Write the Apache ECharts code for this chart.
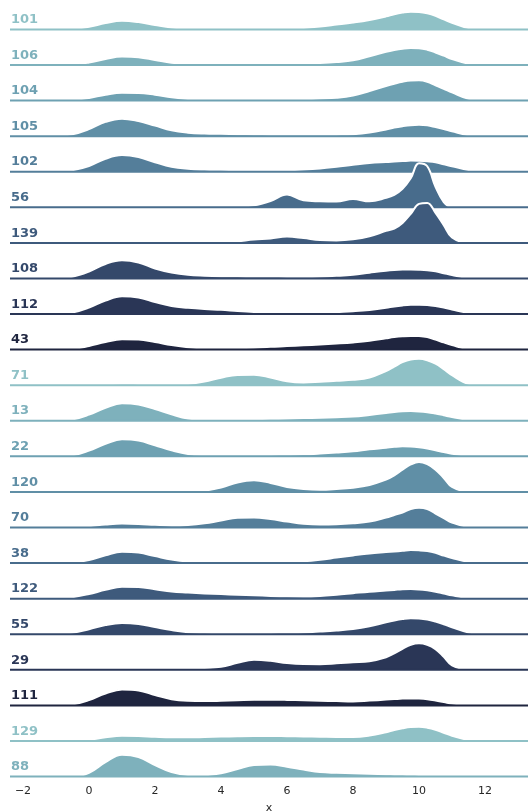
<!DOCTYPE html>
<html>
<head>
<meta charset="utf-8">
<script src="https://cdn.jsdelivr.net/npm/echarts@6/dist/echarts.min.js"></script>
<style>
  html, body { margin: 0; padding: 0; background: #ffffff; }
  #chart { width: 528px; height: 812px; }
</style>
</head>
<body>
<div id="chart"></div>
<script>
// Ridgeline of kernel density estimates, one row per group.
const rowNames = ['101', '106', '104', '105', '102', '56', '139', '108', '112', '43', '71',
                  '13', '22', '120', '70', '38', '122', '55', '29', '111', '129', '88'];

// Positions on x where each density curve is sampled.
const xs = [-1.5, -1, -0.5, 0, 0.5, 1, 1.5, 2, 2.5, 3, 3.5, 4, 4.5, 5, 5.5, 6, 6.5, 7, 7.5, 8, 8.5,
            9, 9.25, 9.5, 9.75, 10, 10.25, 10.5, 10.75, 11, 11.5, 12, 12.5];

const tickValues = [-2, 0, 2, 4, 6, 8, 10, 12];

// Estimated density of each group at the positions in xs.
const d101 = [0, 0, 0.003, 0.026, 0.063, 0.086, 0.073, 0.045, 0.02, 0.008, 0.005, 0.004, 0.004, 0.004, 0.005, 0.007, 0.014, 0.028, 0.048, 0.069, 0.095, 0.13, 0.152, 0.168, 0.177, 0.174, 0.16, 0.135, 0.1, 0.066, 0.013, 0.002, 0];
const d106 = [0, 0, 0.003, 0.024, 0.06, 0.085, 0.078, 0.05, 0.022, 0.008, 0.005, 0.005, 0.005, 0.006, 0.007, 0.01, 0.014, 0.02, 0.03, 0.046, 0.086, 0.132, 0.15, 0.163, 0.17, 0.168, 0.153, 0.125, 0.093, 0.06, 0.013, 0.002, 0];
const d104 = [0, 0, 0.005, 0.026, 0.058, 0.078, 0.076, 0.058, 0.033, 0.015, 0.006, 0.004, 0.004, 0.004, 0.005, 0.006, 0.012, 0.02, 0.028, 0.05, 0.095, 0.145, 0.168, 0.188, 0.2, 0.202, 0.188, 0.152, 0.118, 0.082, 0.018, 0.002, 0];
const d105 = [0, 0.002, 0.018, 0.07, 0.143, 0.175, 0.15, 0.105, 0.058, 0.035, 0.026, 0.023, 0.02, 0.017, 0.015, 0.013, 0.013, 0.013, 0.015, 0.02, 0.036, 0.066, 0.086, 0.1, 0.11, 0.113, 0.108, 0.09, 0.07, 0.048, 0.01, 0.002, 0];
const d102 = [0, 0.002, 0.015, 0.057, 0.13, 0.166, 0.147, 0.095, 0.05, 0.03, 0.022, 0.019, 0.016, 0.014, 0.013, 0.015, 0.022, 0.033, 0.05, 0.07, 0.088, 0.098, 0.102, 0.106, 0.111, 0.109, 0.104, 0.095, 0.075, 0.055, 0.018, 0.003, 0];
const d56  = [0, 0, 0, 0, 0, 0, 0, 0, 0, 0, 0.001, 0.002, 0.007, 0.02, 0.063, 0.127, 0.07, 0.06, 0.057, 0.083, 0.06, 0.095, 0.125, 0.185, 0.29, 0.44, 0.41, 0.205, 0.053, 0.002, 0, 0, 0];
const d139 = [0, 0, 0, 0, 0, 0, 0, 0, 0, 0, 0, 0.003, 0.016, 0.033, 0.045, 0.063, 0.048, 0.028, 0.024, 0.035, 0.065, 0.12, 0.143, 0.2, 0.29, 0.39, 0.4, 0.3, 0.178, 0.055, 0, 0, 0];
const d108 = [0, 0.002, 0.018, 0.07, 0.145, 0.182, 0.16, 0.1, 0.06, 0.037, 0.028, 0.023, 0.021, 0.02, 0.019, 0.018, 0.017, 0.019, 0.026, 0.037, 0.058, 0.078, 0.085, 0.089, 0.09, 0.088, 0.083, 0.072, 0.053, 0.034, 0.006, 0, 0];
const d112 = [0, 0.001, 0.015, 0.065, 0.135, 0.178, 0.165, 0.12, 0.08, 0.062, 0.05, 0.042, 0.03, 0.02, 0.013, 0.01, 0.01, 0.013, 0.021, 0.028, 0.04, 0.062, 0.076, 0.086, 0.092, 0.093, 0.09, 0.08, 0.065, 0.045, 0.01, 0.001, 0];
const d43  = [0, 0, 0.007, 0.037, 0.077, 0.103, 0.1, 0.075, 0.045, 0.023, 0.012, 0.01, 0.012, 0.018, 0.028, 0.035, 0.043, 0.052, 0.061, 0.072, 0.088, 0.113, 0.125, 0.133, 0.137, 0.135, 0.125, 0.1, 0.072, 0.045, 0.006, 0, 0];
const d71  = [0, 0, 0, 0.003, 0.008, 0.015, 0.012, 0.008, 0.006, 0.013, 0.037, 0.075, 0.103, 0.105, 0.078, 0.04, 0.028, 0.035, 0.045, 0.054, 0.077, 0.142, 0.185, 0.23, 0.258, 0.265, 0.25, 0.215, 0.16, 0.1, 0.015, 0, 0];
const d13  = [0, 0.001, 0.013, 0.062, 0.13, 0.175, 0.163, 0.118, 0.065, 0.023, 0.012, 0.01, 0.012, 0.016, 0.02, 0.023, 0.027, 0.03, 0.035, 0.042, 0.058, 0.077, 0.088, 0.095, 0.097, 0.094, 0.086, 0.072, 0.055, 0.038, 0.008, 0, 0];
const d22  = [0, 0, 0.01, 0.058, 0.125, 0.17, 0.158, 0.11, 0.06, 0.023, 0.012, 0.01, 0.01, 0.012, 0.014, 0.016, 0.02, 0.028, 0.038, 0.05, 0.07, 0.086, 0.095, 0.1, 0.098, 0.09, 0.078, 0.062, 0.043, 0.026, 0.006, 0, 0];
const d120 = [0, 0, 0.001, 0.002, 0.002, 0.002, 0.002, 0.001, 0.001, 0.002, 0.012, 0.043, 0.095, 0.117, 0.09, 0.05, 0.03, 0.023, 0.03, 0.043, 0.07, 0.123, 0.165, 0.223, 0.275, 0.3, 0.278, 0.223, 0.14, 0.05, 0.002, 0, 0];
const d70  = [0, 0, 0.003, 0.013, 0.03, 0.04, 0.036, 0.027, 0.021, 0.026, 0.042, 0.07, 0.097, 0.1, 0.085, 0.06, 0.038, 0.03, 0.033, 0.043, 0.06, 0.1, 0.125, 0.15, 0.185, 0.198, 0.185, 0.14, 0.095, 0.05, 0.007, 0, 0];
const d38  = [0, 0, 0.007, 0.032, 0.078, 0.113, 0.105, 0.07, 0.035, 0.015, 0.01, 0.007, 0.006, 0.006, 0.008, 0.012, 0.018, 0.033, 0.055, 0.077, 0.097, 0.11, 0.116, 0.123, 0.131, 0.128, 0.12, 0.102, 0.075, 0.05, 0.013, 0.001, 0];
const d122 = [0, 0.002, 0.015, 0.047, 0.088, 0.12, 0.116, 0.095, 0.072, 0.062, 0.053, 0.046, 0.04, 0.034, 0.028, 0.024, 0.023, 0.028, 0.04, 0.055, 0.07, 0.082, 0.088, 0.095, 0.096, 0.092, 0.083, 0.07, 0.052, 0.034, 0.009, 0.002, 0];
const d55  = [0, 0.002, 0.015, 0.05, 0.092, 0.112, 0.102, 0.072, 0.042, 0.02, 0.014, 0.011, 0.01, 0.011, 0.013, 0.015, 0.018, 0.027, 0.038, 0.053, 0.08, 0.12, 0.138, 0.152, 0.16, 0.158, 0.148, 0.127, 0.1, 0.07, 0.018, 0.002, 0];
const d29  = [0, 0, 0, 0.002, 0.006, 0.01, 0.007, 0.003, 0.004, 0.01, 0.018, 0.03, 0.07, 0.1, 0.09, 0.068, 0.058, 0.057, 0.065, 0.076, 0.086, 0.125, 0.165, 0.21, 0.25, 0.265, 0.25, 0.207, 0.13, 0.045, 0.003, 0, 0];
const d111 = [0, 0.001, 0.01, 0.053, 0.118, 0.158, 0.15, 0.105, 0.062, 0.046, 0.043, 0.046, 0.051, 0.056, 0.057, 0.055, 0.051, 0.047, 0.043, 0.04, 0.048, 0.058, 0.063, 0.068, 0.07, 0.068, 0.062, 0.05, 0.035, 0.018, 0.003, 0, 0];
const d129 = [0, 0.001, 0.004, 0.013, 0.037, 0.052, 0.05, 0.042, 0.037, 0.037, 0.04, 0.044, 0.048, 0.05, 0.05, 0.048, 0.046, 0.043, 0.04, 0.04, 0.055, 0.088, 0.11, 0.128, 0.14, 0.142, 0.133, 0.113, 0.083, 0.053, 0.01, 0.001, 0];
const d88  = [0, 0, 0, 0.038, 0.145, 0.218, 0.195, 0.115, 0.045, 0.017, 0.015, 0.033, 0.075, 0.115, 0.12, 0.098, 0.07, 0.045, 0.038, 0.034, 0.028, 0.024, 0.022, 0.02, 0.019, 0.017, 0.015, 0.013, 0.012, 0.01, 0.006, 0.003, 0];

const densities = [d101, d106, d104, d105, d102, d56, d139, d108, d112, d43, d71,
                   d13, d22, d120, d70, d38, d122, d55, d29, d111, d129, d88];

// Ten-step cubehelix ramp, light to dark, repeated down the rows.
const palette = ['#8fc1c6', '#7eb1bc', '#6ea1b2', '#608fa6', '#547e9a',
                 '#486c8c', '#3e5a7c', '#34486a', '#2a3656', '#1f253f'];

// Layout of the stacked rows (pixels).
const FIRST_BASE = 29.4;
const ROW_STEP = 35.58;
const ROW_H = 25;
const X_MIN = -2.394;
const X_MAX = 13.303;
const FONT = '"DejaVu Sans", "Liberation Sans", sans-serif';

const baseOf = i => FIRST_BASE + ROW_STEP * i;
const colorOf = i => palette[i % palette.length];
const last = rowNames.length - 1;

const grids = [], xAxes = [], yAxes = [], series = [], labels = [];

rowNames.forEach((name, i) => {
  const color = colorOf(i);
  grids.push({
    left: 10, right: 0, top: baseOf(i) - ROW_H, height: ROW_H,
    containLabel: false, outerBoundsMode: 'none'
  });
  const isLast = i === last;
  xAxes.push({
    type: 'value', gridIndex: i, min: X_MIN, max: X_MAX,
    show: isLast,
    axisLine: { show: false },
    axisTick: { show: false },
    splitLine: { show: false },
    axisLabel: {
      show: isLast,
      customValues: tickValues,
      margin: 9,
      color: '#262626',
      fontSize: 11,
      fontFamily: FONT,
      formatter: v => (v < 0 ? '\u2212' + Math.abs(v) : String(v))
    },
    name: isLast ? 'x' : '',
    nameLocation: 'middle',
    nameGap: 26,
    nameTextStyle: { color: '#262626', fontSize: 11, fontFamily: FONT }
  });
  yAxes.push({ type: 'value', gridIndex: i, min: 0, max: ROW_H / 100, show: false });

  // Filled density with a white outline.
  series.push({
    type: 'line', name: name, xAxisIndex: i, yAxisIndex: i,
    data: xs.map((x, j) => [x, densities[i][j]]),
    smooth: 0.4, symbol: 'none', clip: false, silent: true,
    z: 2 + 2 * i,
    lineStyle: { color: '#ffffff', width: 2 },
    areaStyle: { color: color, opacity: 1 }
  });
  // Reference line at zero density.
  series.push({
    type: 'line', xAxisIndex: i, yAxisIndex: i,
    data: [[X_MIN, 0], [X_MAX, 0]],
    symbol: 'none', clip: false, silent: true,
    z: 3 + 2 * i,
    lineStyle: { color: color, width: 2 }
  });

  labels.push({
    type: 'text', silent: true, z: 100,
    x: 11, y: baseOf(i) - 9.7,
    style: {
      text: name, fill: color,
      font: 'bold 13px ' + FONT,
      align: 'left', verticalAlign: 'middle'
    }
  });
});

const chart = echarts.init(document.getElementById('chart'), null, { renderer: 'canvas' });
chart.setOption({
  animation: false,
  backgroundColor: '#ffffff',
  grid: grids,
  xAxis: xAxes,
  yAxis: yAxes,
  series: series,
  graphic: labels
});
</script>
</body>
</html>
